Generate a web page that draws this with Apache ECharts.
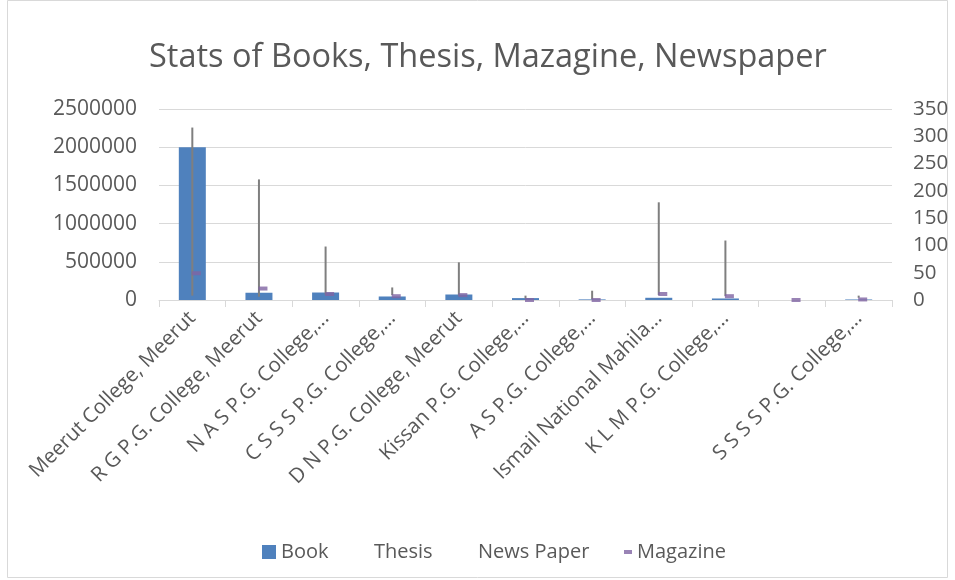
<!DOCTYPE html>
<html>
<head>
<meta charset="utf-8">
<script src="https://cdn.jsdelivr.net/npm/echarts@6/dist/echarts.min.js"></script>
<style>
html,body{margin:0;padding:0;background:#fff;}
#chart{width:955px;height:580px;}
</style>
</head>
<body>
<div id="chart"></div>
<script>
var categories = ["Meerut College, Meerut", "R G P.G. College, Meerut", "N A S P.G. College,...", "C S S S P.G. College,...", "D N P.G. College, Meerut", "Kissan P.G. College,...", "A S P.G. College,...", "Ismail National Mahila...", "K L M P.G. College,...", "", "S S S S P.G. College,..."];
var book = [2000000, 95000, 98000, 46000, 72000, 25000, 8000, 29000, 20000, 0, 7000];
var thesis = [316, 221, 98, 23, 69, 8, 17, 179, 109, 0, 8];
var newsPaper = [8, 6, 10, 9, 8, 3, 1, 9, 7, 0, 4];
var magazine = [49, 21, 11, 7, 9, 0, 0, 11, 7, 0, 1];
var leftTicks = {min: 0, max: 2500000, interval: 500000};
var rightTicks = {min: 0, max: 350, interval: 50};

var FONT = "Open Sans";
var TXT = "#595959";
var hiLo = thesis.map(function (t, i) { return [i, newsPaper[i], t]; });

var chart = echarts.init(document.getElementById('chart'), null, {renderer: 'canvas'});
chart.setOption({
  animation: false,
  backgroundColor: '#ffffff',
  textStyle: {fontFamily: FONT},
  title: {
    text: 'Stats of Books, Thesis, Mazagine, Newspaper',
    left: 144, top: 36,
    textStyle: {fontFamily: FONT, fontSize: 32.5, fontWeight: 'normal', color: TXT}
  },
  graphic: [{
    type: 'rect', silent: true,
    shape: {x: 7.5, y: 0.5, width: 940, height: 577},
    style: {fill: 'none', stroke: '#d9d9d9', lineWidth: 1}
  }],
  legend: [
    {data: ['Book'], left: 257, top: 537, itemWidth: 14, itemHeight: 14, itemGap: 0,
     icon: 'rect', textStyle: {fontFamily: FONT, fontSize: 20, color: TXT}},
    {data: ['Thesis'], left: 350, top: 537, itemWidth: 14, itemHeight: 14, itemGap: 0,
     icon: 'rect', textStyle: {fontFamily: FONT, fontSize: 20, color: TXT}},
    {data: ['News Paper'], left: 454, top: 537, itemWidth: 14, itemHeight: 14, itemGap: 0,
     icon: 'rect', textStyle: {fontFamily: FONT, fontSize: 20, color: TXT}},
    {data: ['Magazine'], left: 619, top: 537, itemWidth: 8, itemHeight: 4, itemGap: 0,
     icon: 'rect', textStyle: {fontFamily: FONT, fontSize: 20, color: TXT}}
  ],
  grid: {left: 159, right: 63, top: 109, bottom: 280, containLabel: false},
  xAxis: {
    type: 'category', data: categories, boundaryGap: true,
    axisLine: {show: true, lineStyle: {color: '#d9d9d9', width: 1}},
    axisTick: {show: true, length: 7, lineStyle: {color: '#d9d9d9'}},
    axisLabel: {rotate: 45, interval: 0, margin: 15, fontFamily: FONT, fontSize: 20.5, color: TXT}
  },
  yAxis: [
    {type: 'value', min: leftTicks.min, max: leftTicks.max, interval: leftTicks.interval,
     axisLine: {show: false}, axisTick: {show: false},
     splitLine: {show: true, lineStyle: {color: '#d9d9d9', width: 1}},
     axisLabel: {margin: 22, fontFamily: FONT, fontSize: 21, color: TXT,
                 formatter: function (v) { return String(v); }}},
    {type: 'value', position: 'right', min: rightTicks.min, max: rightTicks.max, interval: rightTicks.interval,
     axisLine: {show: false}, axisTick: {show: false}, splitLine: {show: false},
     axisLabel: {margin: 21, fontFamily: FONT, fontSize: 20.5, color: TXT,
                 formatter: function (v) { return String(v); }}}
  ],
  series: [
    {name: 'Book', type: 'bar', data: book, barWidth: 27, itemStyle: {color: '#4F81BD'}, yAxisIndex: 0, z: 1},
    {name: 'Thesis', type: 'line', data: thesis, yAxisIndex: 1, showSymbol: false, symbol: 'none',
     itemStyle: {color: '#ffffff', opacity: 0}, lineStyle: {opacity: 0, width: 0}},
    {name: 'News Paper', type: 'line', data: newsPaper, yAxisIndex: 1, showSymbol: false, symbol: 'none',
     itemStyle: {color: '#ffffff', opacity: 0}, lineStyle: {opacity: 0, width: 0}},
    {name: 'HiLo', type: 'custom', yAxisIndex: 1, data: hiLo, z: 3,
     renderItem: function (params, api) {
       var lo = api.coord([api.value(0), api.value(1)]);
       var hi = api.coord([api.value(0), api.value(2)]);
       return {type: 'line', shape: {x1: lo[0], y1: lo[1], x2: hi[0], y2: hi[1]},
               style: {stroke: '#7F7F7F', lineWidth: 2}};
     }},
    {name: 'Magazine', type: 'scatter', data: magazine, yAxisIndex: 1, symbol: 'rect',
     symbolSize: [9, 4], symbolOffset: [4, 0], itemStyle: {color: '#8064A2'}, z: 4}
  ]
});
</script>
</body>
</html>
